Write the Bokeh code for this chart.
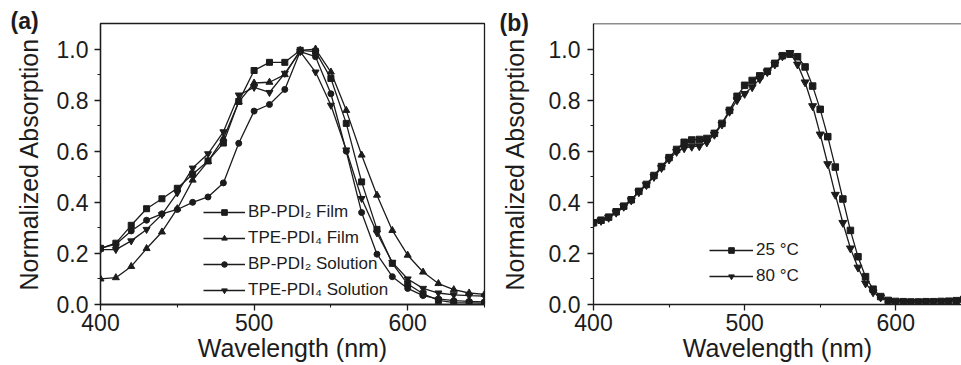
from bokeh.plotting import figure
from bokeh.models import (Range1d, FixedTicker, NumeralTickFormatter, Legend,
                          LegendItem, Span, Title)
from bokeh.layouts import row
from bokeh.embed import file_html
from bokeh.resources import INLINE

# ---------------- data: panel (a) ----------------
wl_a = [400, 410, 420, 430, 440, 450, 460, 470, 480, 490, 500, 510, 520,
        530, 540, 550, 560, 570, 580, 590, 600, 610, 620, 630, 640, 650]
bp_film = [0.22, 0.24, 0.31, 0.375, 0.414, 0.455, 0.51, 0.562, 0.632, 0.795, 0.916, 0.948, 0.948,
           0.995, 0.99, 0.885, 0.709, 0.48, 0.294, 0.161, 0.08, 0.042, 0.016, 0.007, 0.006, 0.005]
tpe_film = [0.10, 0.105, 0.149, 0.219, 0.284, 0.375, 0.487, 0.56, 0.65, 0.793, 0.867, 0.87, 0.90,
            0.995, 1.0, 0.91, 0.76, 0.585, 0.428, 0.29, 0.193, 0.127, 0.082, 0.058, 0.045, 0.04]
bp_sol = [0.22, 0.236, 0.288, 0.33, 0.355, 0.372, 0.40, 0.421, 0.476, 0.631, 0.757, 0.783, 0.842,
          0.99, 0.97, 0.825, 0.60, 0.36, 0.197, 0.109, 0.063, 0.035, 0.022, 0.015, 0.012, 0.01]
tpe_sol = [0.215, 0.215, 0.249, 0.294, 0.352, 0.437, 0.534, 0.59, 0.676, 0.82, 0.85, 0.83, 0.905,
           0.99, 0.91, 0.78, 0.605, 0.415, 0.28, 0.165, 0.10, 0.063, 0.045, 0.038, 0.035, 0.033]
names_a = ["BP-PDI\u2082 Film", "TPE-PDI\u2084 Film", "BP-PDI\u2082 Solution", "TPE-PDI\u2084 Solution"]

# ---------------- data: panel (b) ----------------
wl_b = [400, 405, 410, 415, 420, 425, 430, 435, 440, 445, 450, 455, 460, 465, 470, 475, 480,
        485, 490, 495, 500, 505, 510, 515, 520, 525, 530, 535, 540, 545, 550, 555, 560, 565,
        570, 575, 580, 585, 590, 595, 600, 605, 610, 615, 620, 625, 630, 635, 640, 645]
t25 = [0.32, 0.33, 0.342, 0.363, 0.385, 0.41, 0.443, 0.47, 0.505, 0.54, 0.575, 0.607, 0.635,
       0.644, 0.646, 0.65, 0.67, 0.709, 0.76, 0.815, 0.858, 0.877, 0.895, 0.913, 0.944, 0.974,
       0.98, 0.97, 0.93, 0.855, 0.764, 0.657, 0.538, 0.413, 0.29, 0.187, 0.109, 0.06, 0.031,
       0.016, 0.012, 0.011, 0.01, 0.01, 0.011, 0.011, 0.012, 0.013, 0.015, 0.02]
t80 = [0.32, 0.328, 0.34, 0.36, 0.383, 0.408, 0.44, 0.468, 0.50, 0.535, 0.568, 0.598, 0.612,
       0.618, 0.62, 0.635, 0.665, 0.705, 0.755, 0.80, 0.825, 0.851, 0.883, 0.91, 0.94, 0.972,
       0.985, 0.94, 0.87, 0.777, 0.666, 0.55, 0.43, 0.32, 0.22, 0.145, 0.083, 0.048, 0.028,
       0.016, 0.011, 0.01, 0.01, 0.01, 0.011, 0.011, 0.012, 0.013, 0.015, 0.02]
names_b = ["25 \u00b0C", "80 \u00b0C"]

x_ticks = [400, 500, 600]
x_minor = [450, 550, 650]
y_ticks = [0.0, 0.2, 0.4, 0.6, 0.8, 1.0]
y_minor = [0.1, 0.3, 0.5, 0.7, 0.9]

INK = "#1c1c1c"
FONT = "Liberation Sans"


def style(p, ylab_standoff, ytick_standoff):
    p.grid.visible = False
    p.background_fill_color = "white"
    p.border_fill_color = "white"
    p.xaxis.ticker = FixedTicker(ticks=x_ticks, minor_ticks=x_minor)
    p.yaxis.ticker = FixedTicker(ticks=y_ticks, minor_ticks=y_minor)
    p.yaxis.formatter = NumeralTickFormatter(format="0.0")
    for ax in (p.xaxis[0], p.yaxis[0]):
        ax.axis_line_color = INK
        ax.axis_line_width = 1.3
        ax.major_tick_line_color = INK
        ax.major_tick_line_width = 1.3
        ax.minor_tick_line_color = INK
        ax.minor_tick_line_width = 1.1
        ax.major_tick_in = 0
        ax.major_tick_out = 6
        ax.minor_tick_in = 0
        ax.minor_tick_out = 3
        ax.major_label_text_font = FONT
        ax.major_label_text_font_size = "23px"
        ax.major_label_text_color = INK
        ax.axis_label_text_font = FONT
        ax.axis_label_text_font_size = "25px"
        ax.axis_label_text_font_style = "normal"
        ax.axis_label_text_color = INK
    p.xaxis.major_label_standoff = 3
    p.xaxis.axis_label_standoff = 0
    p.xaxis.axis_label_text_line_height = 0.7
    p.xaxis.axis_label = "Wavelength (nm)"
    p.yaxis.major_label_standoff = ytick_standoff
    p.yaxis.axis_label_standoff = ylab_standoff
    p.yaxis.axis_label = "Normalized Absorption"


def make_legend(p, items, loc, glyph_w):
    lg = Legend(items=items, location=loc, orientation="vertical",
                glyph_width=glyph_w, glyph_height=14, label_height=26,
                label_standoff=3, spacing=0, padding=0, margin=0,
                border_line_color=None, background_fill_alpha=0,
                label_text_font=FONT, label_text_font_size="17px",
                label_text_color=INK, label_text_baseline="middle")
    p.add_layout(lg)


def panel_tag(p, text, offset, standoff):
    p.add_layout(Title(text=text, align="left", offset=offset, standoff=standoff,
                       vertical_align="bottom", text_font=FONT, text_font_size="23px",
                       text_font_style="bold", text_color=INK), "above")


# ---------------- panel (a) ----------------
pa = figure(width=488, height=365, x_range=Range1d(400, 650), y_range=Range1d(0, 1.1),
            output_backend="svg", toolbar_location=None,
            min_border_left=100, min_border_right=4, min_border_top=23, min_border_bottom=59)
style(pa, 11, 6)
pa.outline_line_color = INK
pa.outline_line_width = 1.3
pa.outline_line_alpha = 1.0

items_a = []
for ys, mk, sz, nm in zip([bp_film, tpe_film, bp_sol, tpe_sol],
                          ["square", "triangle", "circle", "inverted_triangle"],
                          [6, 7, 6, 7], names_a):
    l = pa.line(wl_a, ys, line_color=INK, line_width=1.3)
    s = pa.scatter(wl_a, ys, marker=mk, size=sz, fill_color=INK, line_color=INK)
    items_a.append(LegendItem(label=nm, renderers=[l, s]))
make_legend(pa, items_a, (103, 1), 42)
panel_tag(pa, "(a)", -90, -20)

# ---------------- panel (b) ----------------
pb = figure(width=473, height=365, x_range=Range1d(400, 643.5), y_range=Range1d(0, 1.1),
            output_backend="svg", toolbar_location=None,
            min_border_left=105, min_border_right=0, min_border_top=21, min_border_bottom=61)
style(pb, 17, 7)
pb.outline_line_color = None
pb.add_layout(Span(location=1.1, dimension="width", line_color=INK, line_width=1.3))

items_b = []
for ys, mk, sz, nm in zip([t25, t80], ["square", "inverted_triangle"], [6.5, 8], names_b):
    l = pb.line(wl_b, ys, line_color=INK, line_width=1.3)
    s = pb.scatter(wl_b, ys, marker=mk, size=sz, fill_color=INK, line_color=INK)
    items_b.append(LegendItem(label=nm, renderers=[l, s]))
make_legend(pb, items_b, (116, 15), 44)
panel_tag(pb, "(b)", -94, -24)

layout = row(pa, pb)
open("out.html", "w").write(file_html(layout, INLINE))
